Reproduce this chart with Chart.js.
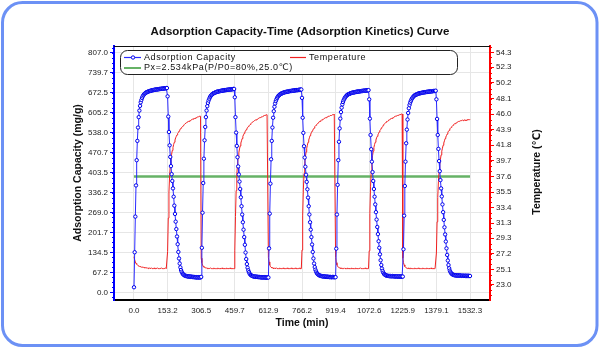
<!DOCTYPE html>
<html>
<head>
<meta charset="utf-8">
<script src="https://cdn.jsdelivr.net/npm/chart.js@4.4.1/dist/chart.umd.min.js"></script>
<style>
  html, body { margin: 0; padding: 0; background: #fff; }
  canvas { display: block; }
</style>
</head>
<body>
<canvas id="kinetics" width="600" height="350"></canvas>
<script>
// readings every ~3.06 min, 100 per adsorption/desorption cycle
const sampleStep = 1532.3 / 500;

const capCycle1 = [
  17,135,255,360,445,510,555,590,612,628,
  640,648,655,660,664,667,669,671,673,674,
  675,676,677,678,678,679,680,680,681,681,
  682,682,683,683,683,684,684,684,685,685,
  685,686,686,686,686,687,687,687,688,688,
  660,592,540,495,456,425,398,375,350,322,
  292,264,238,213,188,162,136,114,97,84,
  75,69,64,61,59,57,56,55,55,54,
  54,53,54,53,52,53,52,52,51,52,
  51,51,50,51,50,50,51,50,50,50
];
const capCycle2 = [
  52,150,268,368,450,512,557,590,612,627,
  638,646,652,657,661,664,666,668,670,671,
  672,673,674,675,676,676,677,677,678,678,
  679,679,680,680,680,681,681,681,682,682,
  682,683,683,683,683,684,684,684,685,685,
  657,590,538,493,455,424,397,373,348,320,
  290,262,236,211,186,160,134,112,95,83,
  74,68,63,60,58,56,55,54,54,53,
  53,52,53,52,52,51,52,51,51,50,
  51,50,50,50,51,50,49,50,50,50
];
const capCycle3 = [
  50,148,265,366,448,510,555,588,610,625,
  636,644,650,655,659,662,664,666,668,669,
  670,671,672,673,674,674,675,675,676,676,
  677,677,678,678,678,679,679,679,680,680,
  680,681,681,681,681,682,682,682,683,683,
  655,588,537,492,454,423,396,372,347,319,
  290,262,236,211,186,161,136,114,97,85,
  76,70,65,62,60,58,57,56,55,55,
  54,54,53,54,53,53,52,53,52,52,
  52,51,52,51,51,51,52,51,51,51
];
const capCycle4 = [
  51,147,262,362,445,507,552,585,607,622,
  633,641,647,652,656,659,662,664,666,667,
  668,669,670,671,672,672,673,673,674,674,
  675,675,676,676,676,677,677,677,678,678,
  678,679,679,679,679,680,680,680,680,681,
  650,585,530,482,440,405,375,348,322,296,
  270,245,220,196,172,150,128,108,92,80,
  72,66,62,60,58,57,56,56,55,55,
  55,54,55,54,54,55,54,54,53,54,
  54,53,54,53,53,54,53,53,53,53
];
const capCycle5 = [
  53,145,258,358,440,502,548,582,604,620,
  631,639,645,650,654,657,660,662,664,665,
  666,667,668,669,670,670,671,671,672,672,
  673,673,674,674,674,675,675,675,676,676,
  676,677,677,677,677,678,678,678,678,679,
  650,584,530,483,442,408,378,350,323,296,
  270,244,219,195,171,148,126,107,92,81,
  73,68,64,62,60,59,58,58,57,57,
  57,56,57,56,56,57,56,56,55,56,
  56,55,56,55,56,55,55,56,55,55,
  55
];

const tempCycle1 = [
  26.8,26.4,26.1,25.9,25.8,25.7,25.6,25.6,25.5,25.5,
  25.5,25.4,25.4,25.4,25.4,25.3,25.4,25.3,25.3,25.3,
  25.3,25.2,25.3,25.3,25.2,25.2,25.3,25.2,25.2,25.2,
  25.3,25.2,25.2,25.2,25.2,25.3,25.2,25.2,25.2,25.2,
  25.2,25.3,25.2,25.2,25.2,25.2,25.2,25.3,25.2,25.2,
  27.5,32.0,35.5,37.7,39.0,39.9,40.6,41.1,41.5,41.9,
  42.2,42.5,42.8,43.0,43.2,43.4,43.5,43.7,43.8,44.0,
  44.1,44.2,44.3,44.4,44.5,44.6,44.7,44.7,44.8,44.9,
  44.9,45.0,45.0,45.1,45.1,45.2,45.2,45.3,45.3,45.4,
  45.4,45.4,45.5,45.5,45.6,45.6,45.6,45.7,45.7,45.7
];
const tempCycle2 = [
  26.6,26.0,25.7,25.5,25.4,25.4,25.3,25.3,25.3,25.2,
  25.3,25.2,25.2,25.2,25.3,25.2,25.2,25.2,25.2,25.3,
  25.2,25.2,25.2,25.2,25.2,25.3,25.2,25.2,25.2,25.2,
  25.2,25.3,25.2,25.2,25.2,25.2,25.2,25.2,25.3,25.2,
  25.2,25.2,25.2,25.3,25.2,25.2,25.2,25.2,25.2,25.2,
  27.6,32.2,35.7,37.9,39.2,40.1,40.8,41.3,41.7,42.1,
  42.4,42.7,43.0,43.2,43.4,43.6,43.7,43.9,44.0,44.2,
  44.3,44.4,44.5,44.6,44.7,44.8,44.9,44.9,45.0,45.1,
  45.1,45.2,45.2,45.3,45.3,45.4,45.4,45.5,45.5,45.6,
  45.6,45.6,45.7,45.7,45.8,45.8,45.8,45.9,45.9,45.9
];
const tempCycle3 = [
  26.7,26.1,25.7,25.5,25.4,25.3,25.3,25.3,25.2,25.3,
  25.2,25.2,25.3,25.2,25.2,25.2,25.2,25.3,25.2,25.2,
  25.2,25.2,25.3,25.2,25.2,25.2,25.2,25.2,25.3,25.2,
  25.2,25.2,25.2,25.2,25.3,25.2,25.2,25.2,25.2,25.2,
  25.3,25.2,25.2,25.2,25.2,25.2,25.3,25.2,25.2,25.2,
  27.7,32.4,35.8,38.0,39.3,40.2,40.9,41.4,41.8,42.2,
  42.5,42.8,43.1,43.3,43.5,43.7,43.8,44.0,44.1,44.3,
  44.4,44.5,44.6,44.7,44.8,44.9,45.0,45.0,45.1,45.2,
  45.2,45.3,45.3,45.4,45.4,45.5,45.5,45.6,45.6,45.7,
  45.7,45.7,45.8,45.8,45.8,45.9,45.9,45.9,46.0,46.0
];
const tempCycle4 = [
  26.7,26.0,25.7,25.5,25.4,25.4,25.3,25.3,25.2,25.3,
  25.2,25.2,25.2,25.3,25.2,25.2,25.2,25.2,25.3,25.2,
  25.2,25.2,25.2,25.2,25.3,25.2,25.2,25.2,25.2,25.2,
  25.3,25.2,25.2,25.2,25.2,25.2,25.2,25.3,25.2,25.2,
  25.2,25.2,25.2,25.2,25.3,25.2,25.2,25.2,25.2,25.2,
  27.6,32.6,36.2,38.3,39.5,40.4,41.0,41.5,41.9,42.2,
  42.5,42.8,43.0,43.2,43.4,43.6,43.8,43.9,44.1,44.2,
  44.3,44.5,44.6,44.7,44.8,44.9,45.0,45.0,45.1,45.2,
  45.2,45.3,45.3,45.4,45.4,45.5,45.5,45.6,45.6,45.7,
  45.7,45.7,45.8,45.8,45.8,45.9,45.9,45.9,46.0,46.0
];
const tempCycle5 = [
  26.6,26.0,25.7,25.5,25.4,25.3,25.3,25.2,25.3,25.2,
  25.2,25.2,25.3,25.2,25.2,25.2,25.2,25.2,25.3,25.2,
  25.2,25.2,25.2,25.3,25.2,25.2,25.2,25.2,25.2,25.2,
  25.3,25.2,25.2,25.2,25.2,25.2,25.3,25.2,25.2,25.2,
  25.2,25.2,25.3,25.2,25.2,25.2,25.2,25.2,25.2,25.2,
  27.3,31.5,34.8,36.9,38.2,39.2,39.9,40.5,41.0,41.4,
  41.8,42.1,42.4,42.7,42.9,43.1,43.3,43.5,43.7,43.8,
  44.0,44.1,44.2,44.3,44.4,44.5,44.6,44.7,44.7,44.8,
  44.8,44.9,44.9,45.0,45.0,45.0,45.1,45.1,45.1,45.2,
  45.1,45.2,45.2,45.2,45.1,45.2,45.2,45.3,45.2,45.2,
  45.3
];

const pxLevel = 390;             // Px=2.534kPa reference line (mg/g)
const pxSpan = [0, 1532.3];

const timeTicks = [0.0,153.2,306.5,459.7,612.9,766.2,919.4,1072.6,1225.9,1379.1,1532.3];
const capTicks = [0.0,67.2,134.5,201.7,269.0,336.2,403.5,470.7,538.0,605.2,672.5,739.7,807.0];
const tempTicks = [23.0,25.1,27.2,29.3,31.3,33.4,35.5,37.6,39.7,41.8,43.9,46.0,48.1,50.2,52.3,54.3];

const capacity = [...capCycle1, ...capCycle2, ...capCycle3, ...capCycle4, ...capCycle5];
const temperature = [...tempCycle1, ...tempCycle2, ...tempCycle3, ...tempCycle4, ...tempCycle5];

const capPoints = capacity.map((v, i) => ({x: i * sampleStep, y: v}));
const tempPoints = temperature.map((v, i) => ({x: i * sampleStep, y: v}));
const pxPoints = pxSpan.map(t => ({x: t, y: pxLevel}));

const FONT = "'Liberation Sans', Arial, 'DejaVu Sans', 'Noto Sans CJK SC', sans-serif";
const tickFont = {family: FONT, size: 8};
const axisTitleFont = {family: FONT, size: 10.5, weight: 'bold'};

function fixedTicks(list) {
  return function(scale) {
    scale.ticks = list.map(v => ({value: v}));
  };
}

const decor = {
  id: 'decor',
  beforeDraw(chart) {
    const ctx = chart.ctx;
    ctx.save();
    ctx.fillStyle = '#fff';
    ctx.fillRect(0, 0, chart.width, chart.height);
    ctx.restore();
  },
  afterDraw(chart) {
    const ctx = chart.ctx;
    const a = chart.chartArea;
    const yL = chart.scales.y;
    const yR = chart.scales.y1;
    ctx.save();

    // top frame line
    ctx.strokeStyle = '#111';
    ctx.lineWidth = 1;
    ctx.beginPath();
    ctx.moveTo(a.left, a.top + 0.5);
    ctx.lineTo(a.right, a.top + 0.5);
    ctx.stroke();

    // minor ticks, left axis
    ctx.strokeStyle = '#0000ff';
    const stepL = capTicks[1] - capTicks[0];
    for (let v = capTicks[0] - stepL; v < yL.max; v += stepL / 4) {
      if (v < yL.min) continue;
      const py = Math.round(yL.getPixelForValue(v)) + 0.5;
      ctx.beginPath();
      ctx.moveTo(a.left - 2, py);
      ctx.lineTo(a.left, py);
      ctx.stroke();
    }
    // minor ticks, right axis
    ctx.strokeStyle = '#ff0000';
    const stepR = (tempTicks[tempTicks.length - 1] - tempTicks[0]) / (tempTicks.length - 1);
    for (let v = tempTicks[0] - stepR; v < yR.max; v += stepR / 3) {
      if (v < yR.min) continue;
      const py = Math.round(yR.getPixelForValue(v)) + 0.5;
      ctx.beginPath();
      ctx.moveTo(a.right, py);
      ctx.lineTo(a.right + 2, py);
      ctx.stroke();
    }

    // right axis title, reading upward
    ctx.save();
    ctx.translate(537, 172);
    ctx.rotate(-Math.PI / 2);
    ctx.font = 'bold 10.5px ' + FONT;
    ctx.fillStyle = '#111';
    ctx.textAlign = 'center';
    ctx.textBaseline = 'middle';
    ctx.fillText('Temperature (\u2103)', 0, 0);
    ctx.restore();

    // legend box
    const lx = 120, ly = 50, lw = 337, lh = 24;
    ctx.fillStyle = '#fff';
    ctx.strokeStyle = '#222';
    ctx.lineWidth = 1;
    ctx.beginPath();
    ctx.roundRect(lx + 0.5, ly + 0.5, lw, lh, 7);
    ctx.fill();
    ctx.stroke();

    const ds = chart.data.datasets;
    ctx.font = '9px ' + FONT;
    ctx.letterSpacing = '0.6px';
    ctx.fillStyle = '#111';
    ctx.textBaseline = 'middle';
    ctx.textAlign = 'left';

    const row1 = 57.5, row2 = 68;
    // capacity
    ctx.strokeStyle = ds[0].borderColor;
    ctx.lineWidth = 1.2;
    ctx.beginPath(); ctx.moveTo(124, row1); ctx.lineTo(141, row1); ctx.stroke();
    ctx.beginPath(); ctx.arc(133, row1, 1.7, 0, Math.PI * 2);
    ctx.fillStyle = '#fff'; ctx.fill();
    ctx.strokeStyle = ds[0].pointBorderColor; ctx.lineWidth = 1; ctx.stroke();
    ctx.fillStyle = '#111';
    ctx.fillText(ds[0].label, 144, row1);
    // temperature
    ctx.strokeStyle = ds[1].borderColor;
    ctx.lineWidth = 1.2;
    ctx.beginPath(); ctx.moveTo(290, row1); ctx.lineTo(306, row1); ctx.stroke();
    ctx.fillText(ds[1].label, 309, row1);
    // Px line
    ctx.strokeStyle = ds[2].borderColor;
    ctx.lineWidth = 2;
    ctx.beginPath(); ctx.moveTo(124, row2); ctx.lineTo(141, row2); ctx.stroke();
    ctx.fillText(ds[2].label, 144, row2);
    ctx.letterSpacing = '0px';

    // outer rounded frame
    ctx.strokeStyle = '#6c91f5';
    ctx.lineWidth = 3;
    ctx.beginPath();
    ctx.roundRect(2.5, 2.5, 594.5, 343, 20);
    ctx.stroke();

    ctx.restore();
  }
};

new Chart("kinetics", {
  type: 'line',
  data: {
    datasets: [{
      label: 'Adsorption Capacity',
      data: capPoints,
      yAxisID: 'y',
      borderColor: '#2a2aff',
      borderWidth: 1,
      pointRadius: 1.7,
      pointBorderWidth: 1,
      pointBorderColor: '#0000ee',
      pointBackgroundColor: '#ffffff',
      order: 1
    }, {
      label: 'Temperature',
      data: tempPoints,
      yAxisID: 'y1',
      borderColor: '#f02020',
      borderWidth: 1,
      pointRadius: 0,
      order: 2
    }, {
      label: 'Px=2.534kPa(P/P0=80%,25.0\u2103)',
      data: pxPoints,
      yAxisID: 'y',
      borderColor: '#66b266',
      borderWidth: 2.5,
      pointRadius: 0,
      order: 3
    }]
  },
  options: {
    responsive: false,
    animation: false,
    layout: { padding: 0 },
    plugins: {
      legend: { display: false },
      tooltip: { enabled: false },
      title: {
        display: true,
        text: 'Adsorption Capacity-Time (Adsorption Kinetics) Curve',
        color: '#111',
        font: {family: FONT, size: 11.5, weight: 'bold'},
        padding: {top: 25, bottom: 7.2}
      }
    },
    scales: {
      x: {
        type: 'linear',
        min: -91.2,
        max: 1623.5,
        afterBuildTicks: fixedTicks(timeTicks),
        afterFit: s => { s.height = 50; },
        ticks: {
          callback: v => Number(v).toFixed(1),
          font: tickFont, color: '#222', padding: 6,
          autoSkip: false, maxRotation: 0
        },
        grid: { color: '#e6e6e6', drawTicks: false },
        border: { color: '#000', width: 2 },
        title: { display: true, text: 'Time (min)', color: '#111', font: axisTitleFont, padding: {top: 0, bottom: 20.4} }
      },
      y: {
        position: 'left',
        min: -25.9,
        max: 829.6,
        afterBuildTicks: fixedTicks(capTicks),
        afterFit: s => { s.width = 114; },
        ticks: { callback: v => Number(v).toFixed(1), font: tickFont, color: '#222', padding: 2 },
        grid: { color: '#e6e6e6', tickColor: '#0000ff', tickLength: 4 },
        border: { color: '#0000ff', width: 2 },
        title: { display: true, text: 'Adsorption Capacity (mg/g)', color: '#111', font: axisTitleFont, padding: {top: 71.4, bottom: 0} }
      },
      y1: {
        position: 'right',
        min: 20.98,
        max: 55.15,
        afterBuildTicks: fixedTicks(tempTicks),
        afterFit: s => { s.width = 110; },
        ticks: { callback: v => Number(v).toFixed(1), font: tickFont, color: '#222', padding: 2 },
        grid: { drawOnChartArea: false, tickColor: '#ff0000', tickLength: 4 },
        border: { color: '#ff0000', width: 2 }
      }
    }
  },
  plugins: [decor]
});
</script>
</body>
</html>
